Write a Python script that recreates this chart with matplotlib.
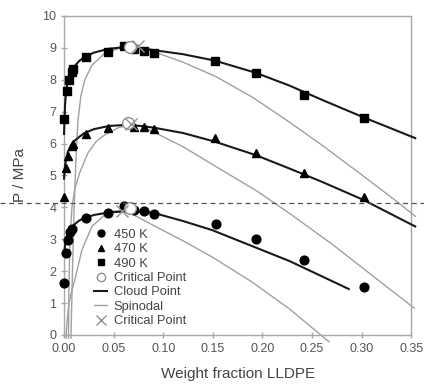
import matplotlib
matplotlib.use('Agg')
import matplotlib.pyplot as plt
from matplotlib.lines import Line2D

plt.rcParams['font.family'] = ['Liberation Sans', 'DejaVu Sans']

# measured cloud points (weight fraction, P / MPa)
x450 = [0.0, 0.002, 0.004, 0.006, 0.008, 0.022, 0.044, 0.060, 0.071, 0.081, 0.091, 0.153, 0.193, 0.242, 0.302]
p450 = [1.64, 2.56, 2.98, 3.24, 3.31, 3.66, 3.83, 4.04, 3.92, 3.87, 3.79, 3.48, 3.01, 2.35, 1.50]
x470 = [0.0, 0.002, 0.004, 0.008, 0.009, 0.022, 0.044, 0.071, 0.081, 0.091, 0.152, 0.193, 0.242, 0.302]
p470 = [4.32, 5.22, 5.61, 5.92, 5.99, 6.30, 6.48, 6.51, 6.51, 6.45, 6.17, 5.70, 5.07, 4.32]
x490 = [0.0, 0.003, 0.005, 0.008, 0.009, 0.022, 0.044, 0.060, 0.071, 0.081, 0.091, 0.152, 0.193, 0.242, 0.302]
p490 = [6.77, 7.66, 8.00, 8.25, 8.33, 8.70, 8.88, 9.07, 8.96, 8.91, 8.85, 8.60, 8.20, 7.52, 6.81]

# critical points (measured / model spinodal)
xcrit = [0.066, 0.064, 0.066]
pcrit = [3.98, 6.65, 9.02]
xcrit_sp = [0.058, 0.068, 0.075]
pcrit_sp = [3.90, 6.62, 9.05]

# model cloud point curves
xc450 = [0.0, 0.001, 0.002, 0.004, 0.007, 0.01, 0.015, 0.02, 0.03, 0.045, 0.06, 0.075, 0.09, 0.12, 0.149, 0.19, 0.227, 0.287]
pc450 = [2.5, 2.8, 3.0, 3.18, 3.35, 3.45, 3.58, 3.66, 3.76, 3.84, 3.87, 3.86, 3.83, 3.57, 3.29, 2.78, 2.32, 1.44]
xc470 = [0.0, 0.001, 0.002, 0.004, 0.007, 0.01, 0.015, 0.02, 0.03, 0.045, 0.06, 0.075, 0.09, 0.12, 0.152, 0.193, 0.227, 0.26, 0.302, 0.354]
pc470 = [4.9, 5.3, 5.5, 5.75, 5.95, 6.07, 6.2, 6.32, 6.45, 6.55, 6.58, 6.56, 6.5, 6.33, 6.06, 5.64, 5.22, 4.8, 4.23, 3.4]
xc490 = [0.0, 0.001, 0.002, 0.004, 0.007, 0.01, 0.015, 0.02, 0.03, 0.045, 0.06, 0.075, 0.09, 0.12, 0.152, 0.193, 0.227, 0.26, 0.302, 0.354]
pc490 = [6.3, 7.2, 7.6, 8.0, 8.25, 8.4, 8.58, 8.7, 8.85, 8.97, 9.02, 9.0, 8.93, 8.8, 8.6, 8.22, 7.82, 7.37, 6.82, 6.17]

# model spinodal curves
xs450 = [0.002, 0.003, 0.005, 0.008, 0.011, 0.018, 0.028, 0.041, 0.05, 0.058, 0.065, 0.086, 0.12, 0.149, 0.19, 0.227, 0.267]
ps450 = [-0.1, 0.4, 1.0, 1.4, 1.75, 2.66, 3.4, 3.76, 3.88, 3.9, 3.85, 3.5, 2.95, 2.45, 1.65, 0.82, -0.21]
xs470 = [0.0045, 0.005, 0.006, 0.008, 0.011, 0.016, 0.024, 0.032, 0.041, 0.055, 0.068, 0.08, 0.093, 0.12, 0.153, 0.195, 0.23, 0.27, 0.31, 0.353]
ps470 = [-0.1, 1.5, 3.0, 4.0, 4.6, 5.1, 5.7, 6.05, 6.27, 6.5, 6.6, 6.52, 6.32, 5.9, 5.28, 4.5, 3.75, 2.85, 1.88, 0.84]
xs490 = [0.007, 0.0085, 0.01, 0.012, 0.014, 0.017, 0.021, 0.028, 0.04, 0.055, 0.07, 0.08, 0.093, 0.12, 0.153, 0.19, 0.224, 0.26, 0.3, 0.336, 0.354]
ps490 = [-0.1, 2.0, 3.8, 5.5, 6.7, 7.5, 8.0, 8.45, 8.8, 8.98, 9.02, 8.98, 8.85, 8.55, 8.1, 7.45, 6.74, 5.95, 5.02, 4.17, 3.72]

fig = plt.figure(figsize=(4.24, 3.85), dpi=100)
ax = fig.add_axes([0.151, 0.13, 0.819, 0.8286])

sp_col = '#a0a0a0'
for xs, ps in [(xs450, ps450), (xs470, ps470), (xs490, ps490)]:
    ax.plot(xs, ps, color=sp_col, lw=1.0, clip_on=False, zorder=2)
for xc, pc in [(xc450, pc450), (xc470, pc470), (xc490, pc490)]:
    ax.plot(xc, pc, color='#1a1a1a', lw=1.5, clip_on=False, zorder=3)

ax.plot(x450, p450, 'o', color='black', ms=6.3, clip_on=False, zorder=4)
ax.plot(x470, p470, '^', color='black', ms=6.3, clip_on=False, zorder=4)
ax.plot(x490, p490, 's', color='black', ms=6.3, clip_on=False, zorder=4)
ax.plot(xcrit, pcrit, 'o', mfc='white', mec='#909090', ms=8.5, mew=1.0, zorder=5)
ax.plot(xcrit_sp, pcrit_sp, 'x', color='#909090', ms=9, mew=1.0, zorder=5)

ax.set_xlim(0, 0.35)
ax.set_ylim(0, 10)
ax.set_xticks([0.0, 0.05, 0.10, 0.15, 0.20, 0.25, 0.30, 0.35])
ax.set_xticklabels(['0.00', '0.05', '0.10', '0.15', '0.20', '0.25', '0.30', '0.35'])
ax.set_yticks(range(0, 11))
for s in ax.spines.values():
    s.set_color('#a8a8a8')
    s.set_linewidth(1.0)
ax.tick_params(direction='inout', length=5, width=1, color='#a8a8a8',
               labelsize=9, labelcolor='#555555', pad=3)
ax.set_xlabel('Weight fraction LLDPE', fontsize=11, color='#444444', labelpad=9)
ax.set_ylabel('P / MPa', fontsize=11, color='#444444', labelpad=11)

handles = [
    Line2D([], [], marker='o', ls='', color='black', ms=5),
    Line2D([], [], marker='^', ls='', color='black', ms=5),
    Line2D([], [], marker='s', ls='', color='black', ms=5),
    Line2D([], [], marker='o', ls='', mfc='white', mec='#909090', ms=6),
    Line2D([], [], color='#1a1a1a', lw=1.5),
    Line2D([], [], color=sp_col, lw=1.0),
    Line2D([], [], marker='x', ls='', color='#909090', ms=7),
]
labels = ['450 K', '470 K', '490 K', 'Critical Point', 'Cloud Point', 'Spinodal', 'Critical Point']
leg = ax.legend(handles, labels, loc='lower left', bbox_to_anchor=(0.065, 0.0),
                frameon=False, fontsize=9.3, handlelength=1.0, handletextpad=0.5,
                labelspacing=0.18, borderaxespad=0.2)
for t in leg.get_texts():
    t.set_color('#444444')

# dashed reference line across the whole figure
fig.add_artist(Line2D([0, 1], [0.472, 0.472], transform=fig.transFigure,
                      color='#555555', lw=0.9, ls=(0, (4, 3))))

fig.savefig('out.png', dpi=100)
